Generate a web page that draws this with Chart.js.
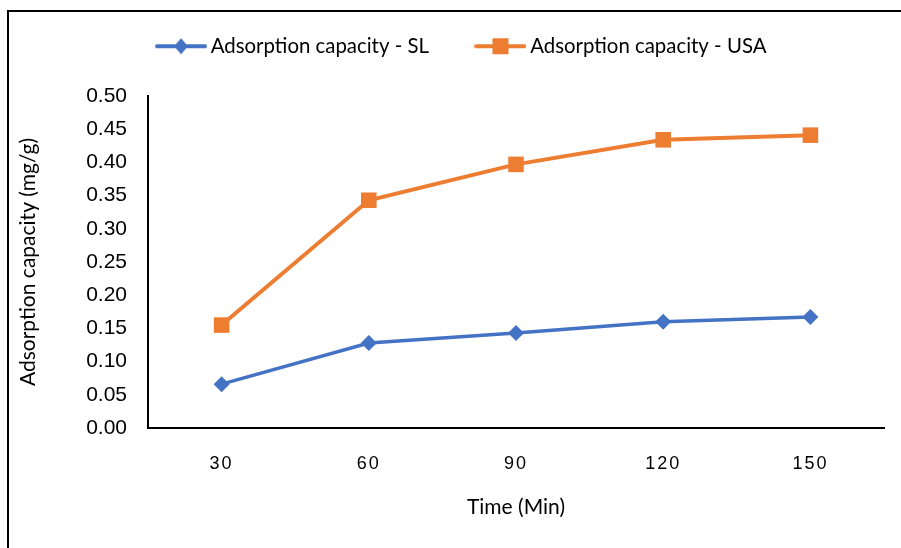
<!DOCTYPE html>
<html>
<head>
<meta charset="utf-8">
<script src="https://cdn.jsdelivr.net/npm/chart.js@4.4.0/dist/chart.umd.min.js"></script>
<style>
  html, body { margin: 0; padding: 0; background: #fff; overflow: hidden; }
  canvas { display: block; }
</style>
</head>
<body>
<canvas id="chart" width="901" height="548"></canvas>
<script>
const times = ["30", "60", "90", "120", "150"];
const slValues = [0.066, 0.128, 0.143, 0.160, 0.167];
const usaValues = [0.155, 0.343, 0.397, 0.434, 0.441];
const seriesNames = ["Adsorption capacity - SL", "Adsorption capacity - USA"];

const BLUE = "#4472C4";
const ORANGE = "#ED7D31";
const textFont = "Lato, 'Liberation Sans', sans-serif";

// little line + marker pictures for the legend (like excel does)
function legendIcon(color, shape) {
  const c = document.createElement("canvas");
  c.width = 52; c.height = 18;
  const g = c.getContext("2d");
  g.strokeStyle = color;
  g.lineWidth = 4;
  g.lineCap = "round";
  g.beginPath(); g.moveTo(2, 9); g.lineTo(50, 9); g.stroke();
  g.fillStyle = color;
  if (shape === "diamond") {
    g.beginPath();
    g.moveTo(26, 1); g.lineTo(33, 9); g.lineTo(26, 17); g.lineTo(19, 9);
    g.closePath(); g.fill();
  } else {
    g.fillRect(18, 1, 16, 16);
  }
  return c;
}
const icons = [legendIcon(BLUE, "diamond"), legendIcon(ORANGE, "square")];

const LEGEND_GAP = 52;

const tweaks = {
  id: "tweaks",
  beforeInit(chart) {
    const fit = chart.legend.fit;
    chart.legend.fit = function () {
      fit.call(this);
      this.height = 70; // so plot top lands at ~96
    };
  },
  afterLayout(chart) {
    const lg = chart.legend;
    lg.left += 16;
    lg.right += 16;
    // wide item gap pushes the row down, pull it back up (keep bottom so text isn't clipped)
    lg.top -= LEGEND_GAP - 10;
  },
  afterUpdate(chart) {
    const xs = chart.scales.x;
    if (xs && !xs._spaced) {
      const orig = xs.drawLabels;
      xs.drawLabels = function (area) {
        this.ctx.save();
        this.ctx.letterSpacing = "2px";
        orig.call(this, area);
        this.ctx.restore();
      };
      xs._spaced = true;
    }
  },
  beforeDraw(chart) {
    // outer frame, only left and top edges show in the picture
    const c = chart.ctx;
    c.save();
    c.strokeStyle = "#000";
    c.lineWidth = 2;
    c.beginPath();
    c.moveTo(8, chart.height);
    c.lineTo(8, 11);
    c.lineTo(chart.width, 11);
    c.stroke();
    c.restore();
  }
};

const ctx = document.getElementById("chart").getContext("2d");
const chart = new Chart(ctx, {
  type: "line",
  data: {
    labels: times,
    datasets: [
      {
        label: seriesNames[0],
        data: slValues,
        borderColor: BLUE,
        backgroundColor: BLUE,
        borderWidth: 3.5,
        pointStyle: "rectRot",
        pointRadius: 8,
        pointHoverRadius: 8,
        pointBorderWidth: 0,
        tension: 0,
      },
      {
        label: seriesNames[1],
        data: usaValues,
        borderColor: ORANGE,
        backgroundColor: ORANGE,
        borderWidth: 4,
        pointStyle: "rect",
        pointRadius: 11,
        pointHoverRadius: 11,
        pointBorderWidth: 0,
        tension: 0,
      },
    ],
  },
  options: {
    responsive: false,
    animation: false,
    events: [],
    layout: { padding: { left: 12, right: 17, top: 26, bottom: 0 } },
    plugins: {
      tooltip: { enabled: false },
      legend: {
        position: "top",
        labels: {
          usePointStyle: true,
          pointStyleWidth: 39,
          padding: LEGEND_GAP,
          color: "#000",
          font: { family: textFont, size: 20.4 },
          generateLabels(chart) {
            const items = Chart.defaults.plugins.legend.labels.generateLabels(chart);
            items.forEach((it, i) => { it.pointStyle = icons[i]; it.lineWidth = 0; });
            return items;
          },
        },
      },
    },
    scales: {
      x: {
        offset: true,
        grid: { display: false, drawTicks: false },
        border: { display: true, color: "#000", width: 2 },
        ticks: {
          color: "#000",
          padding: 25,
          font: { family: "'Liberation Sans', sans-serif", size: 18 },
        },
        title: {
          display: true,
          text: "Time (Min)",
          color: "#000",
          font: { family: textFont, size: 21 },
          padding: { top: 0, bottom: 28 },
        },
        afterFit(scale) { scale.height = 120; },
      },
      y: {
        min: 0,
        max: 0.5,
        grid: { display: false, drawTicks: false },
        border: { display: true, color: "#000", width: 2 },
        ticks: {
          stepSize: 0.05,
          color: "#000",
          padding: 21,
          font: { family: "'Liberation Sans', sans-serif", size: 21 },
          callback: (v) => Number(v).toFixed(2),
        },
        title: {
          display: true,
          text: "Adsorption capacity (mg/g)",
          color: "#000",
          font: { family: textFont, size: 21 },
          padding: { top: 4, bottom: 0 },
        },
        afterFit(scale) { scale.width = 136; },
      },
    },
  },
  plugins: [tweaks],
});
</script>
</body>
</html>
